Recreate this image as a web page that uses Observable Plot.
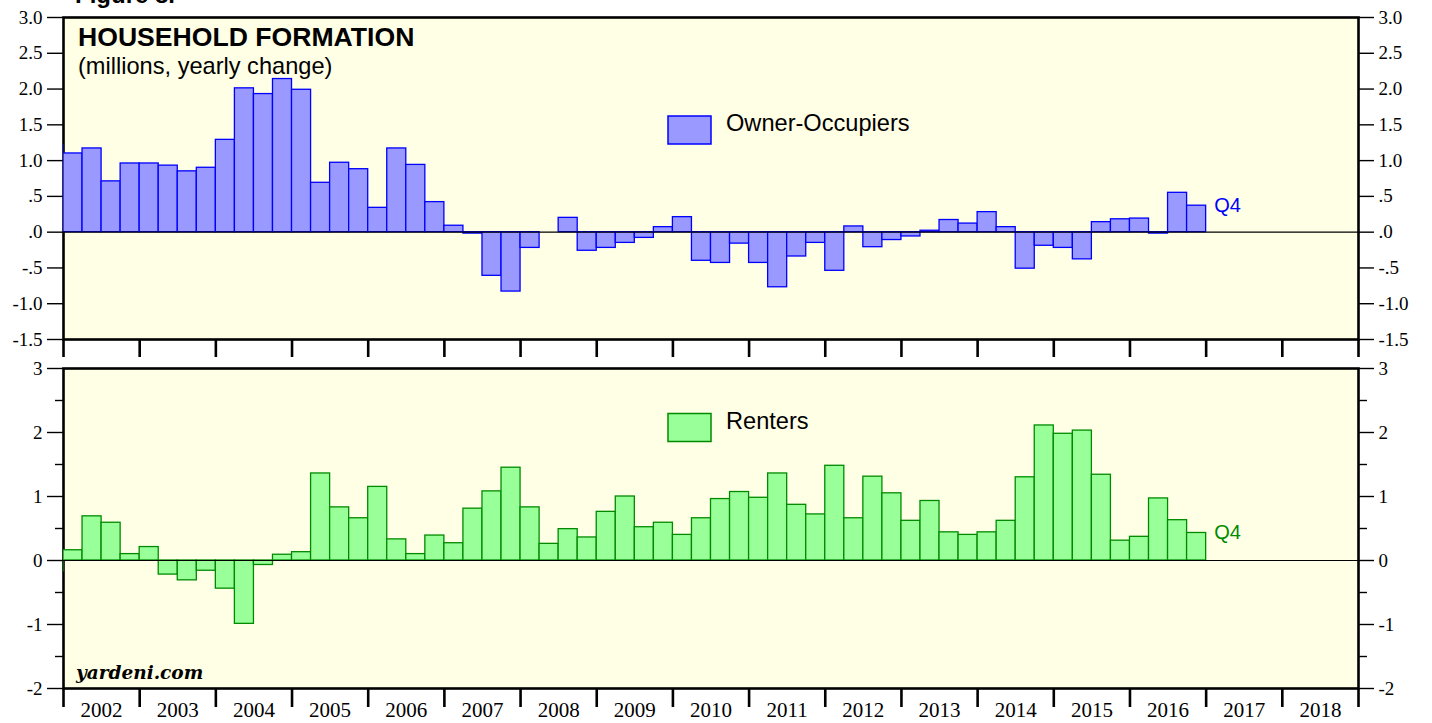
<!DOCTYPE html>
<html><head><meta charset="utf-8">
<script src="https://cdn.jsdelivr.net/npm/d3@7"></script>
<script src="https://cdn.jsdelivr.net/npm/@observablehq/plot@0.6"></script>
<style>
body{margin:0;background:#fff;}
#wrap{position:relative;width:1432px;height:723px;overflow:hidden;}
#wrap svg{position:absolute;left:0;top:0;}
</style></head><body>
<div id="wrap"></div>
<script>
// ---- data (millions, yearly change), quarterly 2002Q1..2016Q4 ----
const years = d3.range(2002, 2017);
const quarters = ["Q1", "Q2", "Q3", "Q4"];
const ownerValues = [
  1.10, 1.17, 0.71, 0.96,
  0.96, 0.93, 0.85, 0.90,
  1.29, 2.01, 1.93, 2.14,
  1.99, 0.69, 0.97, 0.88,
  0.34, 1.17, 0.94, 0.42,
  0.09, -0.02, -0.61, -0.83,
  -0.22, 0.00, 0.20, -0.26,
  -0.22, -0.15, -0.08, 0.07,
  0.21, -0.40, -0.43, -0.16,
  -0.43, -0.77, -0.34, -0.15,
  -0.54, 0.08, -0.21, -0.11,
  -0.06, 0.02, 0.17, 0.12,
  0.28, 0.07, -0.51, -0.19,
  -0.22, -0.38, 0.14, 0.18,
  0.19, -0.02, 0.55, 0.37
];
const renterValues = [
  0.16, 0.69, 0.59, 0.10,
  0.21, -0.22, -0.31, -0.16,
  -0.44, -0.99, -0.07, 0.09,
  0.13, 1.36, 0.83, 0.66,
  1.15, 0.33, 0.10, 0.39,
  0.27, 0.81, 1.08, 1.45,
  0.83, 0.26, 0.49, 0.36,
  0.76, 1.00, 0.52, 0.59,
  0.40, 0.66, 0.96, 1.07,
  0.98, 1.36, 0.87, 0.72,
  1.48, 0.66, 1.31, 1.05,
  0.62, 0.93, 0.44, 0.40,
  0.44, 0.62, 1.30, 2.11,
  1.98, 2.03, 1.34, 0.31,
  0.37, 0.97, 0.63, 0.43
];
// 2001 Q4 (clipped at the left edge of the chart)
const ownerPrior = 1.22;
const renterPrior = -0.17;

const yearTicks = d3.range(2002, 2020);
const yearLabels = d3.range(2002, 2019);
const ownerTicks = [3, 2.5, 2, 1.5, 1, 0.5, 0, -0.5, -1, -1.5];
const renterTicks = [3, 2, 1, 0, -1, -2];
const renterMinorTicks = [2.5, 1.5, 0.5, -0.5, -1.5];

// ---- build rows ----
function rows(values, prior) {
  const out = [{x1: 2001.75, x2: 2002, v: prior, label: "Q4"}];
  values.forEach((v, i) => {
    const y = years[Math.floor(i / 4)], q = i % 4;
    out.push({x1: y + q / 4, x2: y + (q + 1) / 4, v, label: quarters[q]});
  });
  return out;
}
const ownerRows = rows(ownerValues, ownerPrior);
const renterRows = rows(renterValues, renterPrior);

const W = 1432, H = 723;
const hy = s => s.replace(/\u2212/g, "-");
const fmtTop = d => hy(d3.format(".1f")(d)).replace(/^(-?)0\./, "$1.");
const fmtBot = d => hy(d3.format("d")(d));
const base = {
  width: W, height: H, marginLeft: 63, marginRight: 74,
  style: {background: "transparent", fontFamily: "Liberation Serif", fontSize: "19px", color: "black", overflow: "visible"}
};
const FILLBG = "#ffffe6";

function panel(opts) {
  const {rowsData, domain, ticks, minor, fmt, fill, stroke, mt, mb, bottomAxis} = opts;
  const marks = [
    Plot.frame({fill: FILLBG, stroke: "none"}),
    Plot.frame({stroke: "black", strokeWidth: 2.6}),
    Plot.rectY(rowsData, {x1: "x1", x2: "x2", y1: 0, y2: "v", fill, stroke, strokeWidth: 1.3, clip: true}),
    Plot.ruleY([0], {stroke: "black", strokeWidth: 1.2}),
    Plot.text([rowsData[rowsData.length - 1]], {x: "x2", y: "v", text: "label", textAnchor: "start", dx: 8,
      fill: stroke, fontFamily: "Liberation Sans", fontSize: 20}),
    Plot.axisY(ticks, {anchor: "left", tickSize: 16, tickPadding: 5, tickFormat: fmt, label: null, strokeWidth: 1.4}),
    Plot.axisY(ticks, {anchor: "right", tickSize: 15, tickPadding: 5, tickFormat: fmt, label: null, strokeWidth: 1.4})
  ];
  if (minor) {
    marks.push(Plot.axisY(minor, {anchor: "left", tickSize: 8, tickFormat: () => "", label: null, strokeWidth: 1.4}));
    marks.push(Plot.axisY(minor, {anchor: "right", tickSize: 8, tickFormat: () => "", label: null, strokeWidth: 1.4}));
  }
  if (bottomAxis) {
    marks.push(Plot.axisX(yearTicks, {anchor: "bottom", tickSize: 19, tickFormat: () => "", label: null, strokeWidth: 2.6}));
    marks.push(Plot.axisX(yearLabels.map(y => y + 0.5), {anchor: "bottom", tickSize: 0, tickPadding: 14,
      tickFormat: d => String(Math.floor(d)), label: null, fontSize: 21}));
  } else {
    marks.push(Plot.axisX(yearTicks, {anchor: "bottom", tickSize: 18, tickFormat: () => "", label: null, strokeWidth: 2.6}));
  }
  return Plot.plot({
    ...base, marginTop: mt, marginBottom: mb,
    x: {domain: [2002, 2019]},
    y: {domain},
    marks
  });
}

const wrap = document.getElementById("wrap");
wrap.appendChild(panel({rowsData: ownerRows, domain: [-1.5, 3], ticks: ownerTicks, fmt: fmtTop,
  fill: "#9999ff", stroke: "#0000ff", mt: 17, mb: H - 339, bottomAxis: false}));
wrap.appendChild(panel({rowsData: renterRows, domain: [-2, 3], ticks: renterTicks, minor: renterMinorTicks, fmt: fmtBot,
  fill: "#99ff99", stroke: "#008a00", mt: 368, mb: H - 688, bottomAxis: true}));

// ---- annotations: title, subtitle, legend, source ----
const ov = d3.select(wrap).append("svg").attr("width", W).attr("height", H);
ov.append("text").attr("x", 75).attr("y", 3).attr("font-family", "Liberation Sans").attr("font-weight", "bold")
  .attr("font-size", 24).text("Figure 8.");
ov.append("text").attr("x", 78).attr("y", 46).attr("font-family", "Liberation Sans").attr("font-weight", "bold")
  .attr("font-size", 26.6).text("HOUSEHOLD FORMATION");
ov.append("text").attr("x", 78).attr("y", 73.5).attr("font-family", "Liberation Sans")
  .attr("font-size", 23.6).text("(millions, yearly change)");
const legend = [
  {name: "Owner-Occupiers", fill: "#9999ff", stroke: "#0000ff", y: 116, base: 131},
  {name: "Renters", fill: "#99ff99", stroke: "#008a00", y: 413.5, base: 428.5}
];
legend.forEach(l => {
  ov.append("rect").attr("x", 668).attr("y", l.y).attr("width", 43).attr("height", 28)
    .attr("fill", l.fill).attr("stroke", l.stroke).attr("stroke-width", 1.5);
  ov.append("text").attr("x", 726).attr("y", l.base).attr("font-family", "Liberation Sans")
    .attr("font-size", 23.6).text(l.name);
});
ov.append("text").attr("x", 76).attr("y", 679).attr("font-family", "DejaVu Serif").attr("font-weight", "bold")
  .attr("font-style", "italic").attr("font-size", 18.5).text("yardeni.com");
</script>
</body></html>
